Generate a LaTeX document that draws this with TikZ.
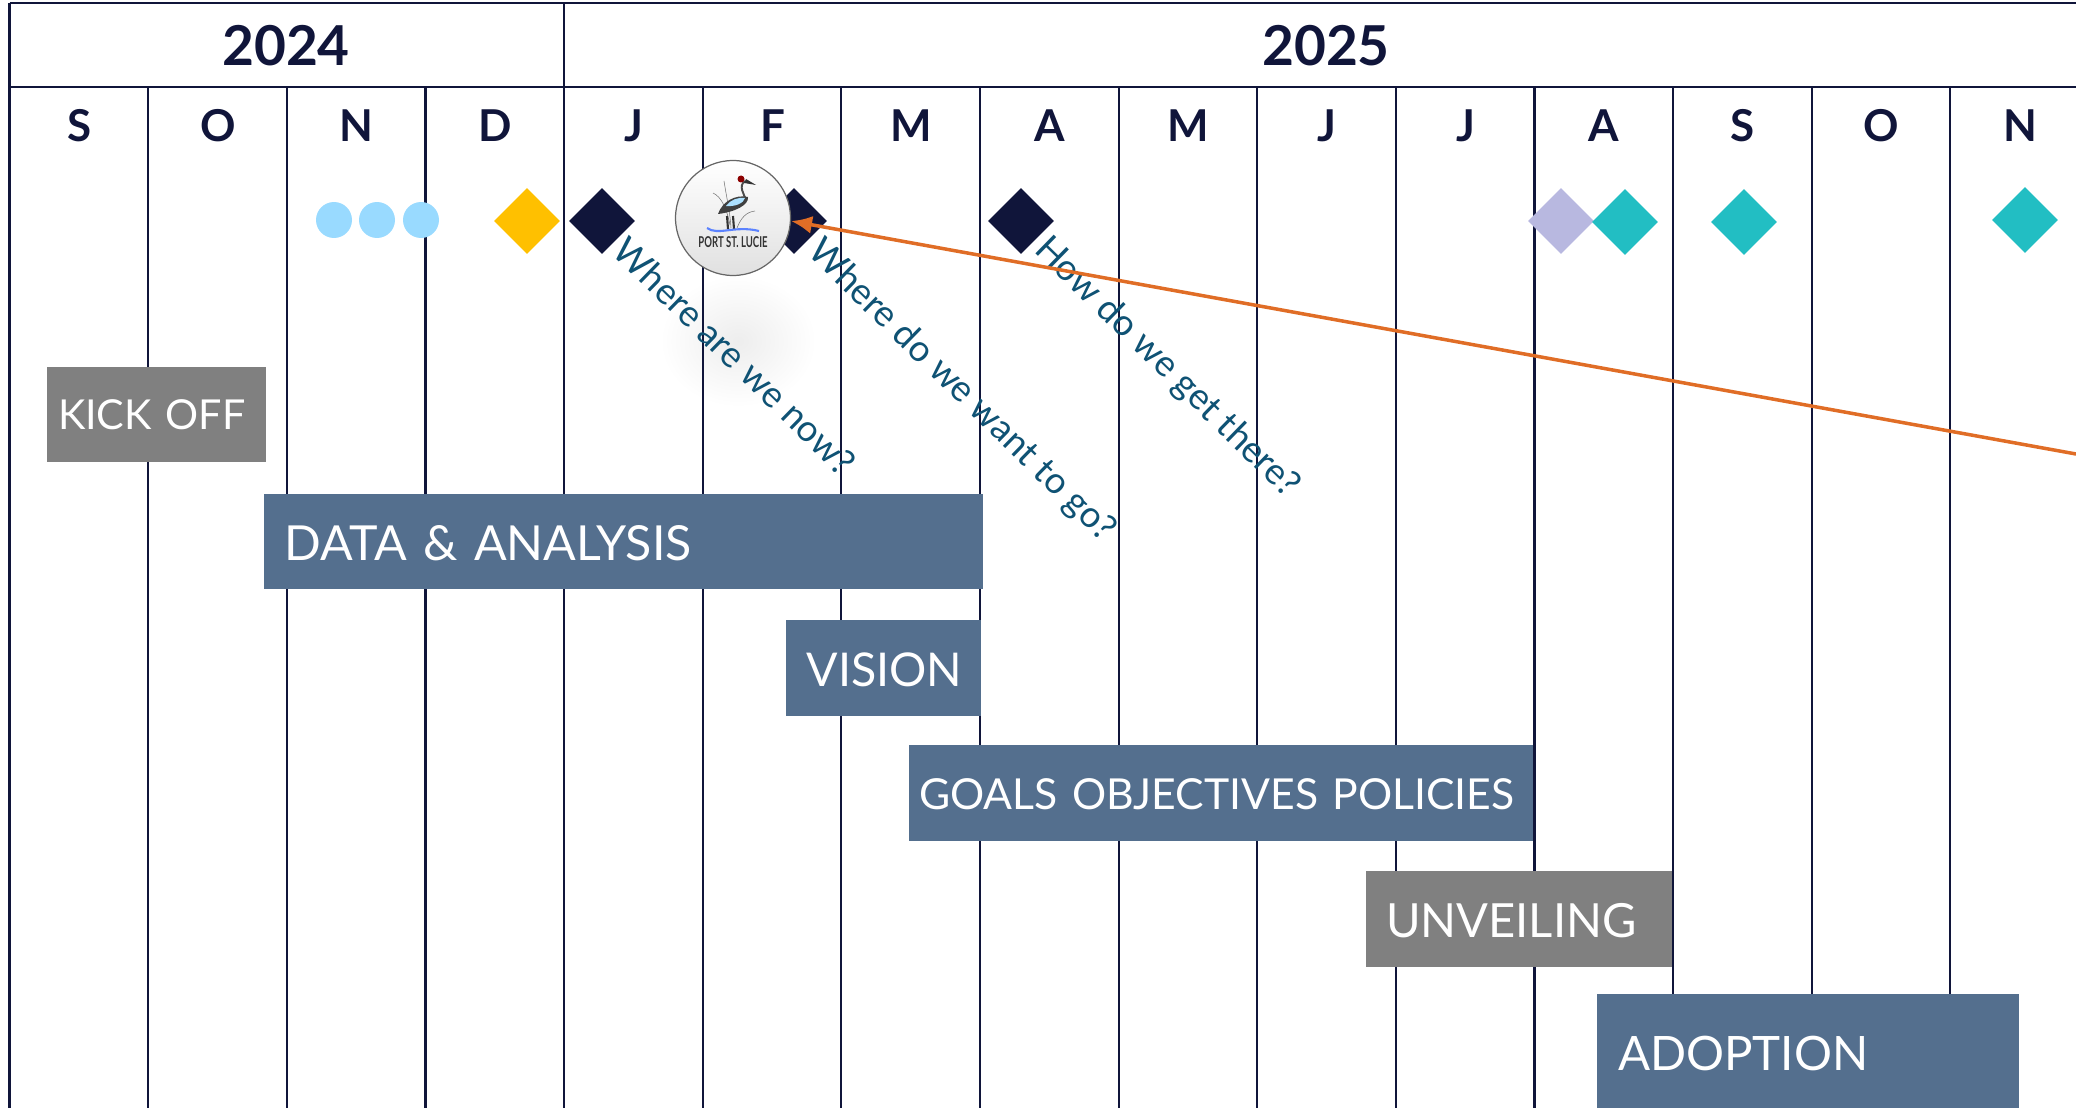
\documentclass[tikz,border=0pt]{standalone}
\usepackage{fontspec}
\usepackage{tikz}
\usetikzlibrary{shapes.geometric,arrows.meta}
\setmainfont{Lato}

\definecolor{navy}{HTML}{10153A}
\definecolor{steel}{HTML}{546F8E}
\definecolor{midgray}{HTML}{808080}
\definecolor{teal}{HTML}{22BEC3}
\definecolor{lilac}{HTML}{B8B8E0}
\definecolor{gold}{HTML}{FFC000}
\definecolor{skyblue}{HTML}{99DAFF}
\definecolor{rust}{HTML}{E06D26}
\definecolor{question}{HTML}{0F5274}

\tikzset{
  gridline/.style={draw=navy,line width=1.6pt},
  yearlabel/.style={text=navy,font=\fontsize{31.3}{32}\selectfont\bfseries,inner sep=0pt},
  monthlabel/.style={text=navy,font=\fontsize{25}{25}\selectfont\bfseries,inner sep=0pt},
  milestone/.style={diamond,minimum width=1.32cm,minimum height=1.32cm,inner sep=0pt},
  dot/.style={circle,fill=skyblue,minimum size=0.72cm,inner sep=0pt},
  phasebox/.style={rectangle,minimum height=1.92cm,inner sep=0pt,align=left,text=white,
    text height=0.76cm,text depth=0pt},
  askline/.style={text=question,font=\fontsize{20.8}{21}\selectfont,inner sep=0pt,rotate=-44.3},
}

\begin{document}
\begin{tikzpicture}[x=0.02cm,y=-0.02cm]
 \useasboundingbox (0,0) rectangle (2076,1108);

% Soft smudge under the first question
 \shade[inner color=black!7,outer color=white] (738,341) ellipse (78 and 66);

% Header rules
 \draw[gridline] (9.5,3) -- (2076,3);
 \draw[gridline] (9.5,87) -- (2076,87);
 \draw[gridline] (9.5,3) -- (9.5,1108);
 \draw[gridline] (564,3) -- (564,87);

% Month rules
 \draw[gridline] (148,87) -- (148,1108);
 \draw[gridline] (287,87) -- (287,1108);
 \draw[gridline] (425.5,87) -- (425.5,1108);
 \draw[gridline] (564,87) -- (564,1108);
 \draw[gridline] (703,87) -- (703,1108);
 \draw[gridline] (841,87) -- (841,1108);
 \draw[gridline] (980,87) -- (980,1108);
 \draw[gridline] (1119,87) -- (1119,1108);
 \draw[gridline] (1257,87) -- (1257,1108);
 \draw[gridline] (1396,87) -- (1396,1108);
 \draw[gridline] (1534.5,87) -- (1534.5,1108);
 \draw[gridline] (1673,87) -- (1673,1108);
 \draw[gridline] (1812,87) -- (1812,1108);
 \draw[gridline] (1950,87) -- (1950,1108);

% Years and months
 \node (year24) [yearlabel] at (286,46) {2024};
 \node (year25) [yearlabel] at (1326,46) {2025};
 \node (mS1) [monthlabel] at (80,126) {S};
 \node (mO1) [monthlabel] at (218,126) {O};
 \node (mN1) [monthlabel] at (356,126) {N};
 \node (mD1) [monthlabel] at (495,126) {D};
 \node (mJ1) [monthlabel] at (634,126) {J};
 \node (mF1) [monthlabel] at (773,126) {F};
 \node (mM1) [monthlabel] at (911,126) {M};
 \node (mA1) [monthlabel] at (1050,126) {A};
 \node (mM2) [monthlabel] at (1188,126) {M};
 \node (mJ2) [monthlabel] at (1327,126) {J};
 \node (mJ3) [monthlabel] at (1466,126) {J};
 \node (mA2) [monthlabel] at (1604,126) {A};
 \node (mS2) [monthlabel] at (1743,126) {S};
 \node (mO2) [monthlabel] at (1881,126) {O};
 \node (mN2) [monthlabel] at (2020,126) {N};

% Meetings and milestones
 \node (dot1) [dot] at (334,220) {};
 \node (dot2) [dot] at (377,220) {};
 \node (dot3) [dot] at (421,220) {};
 \node (kickmark) [milestone,fill=gold] at (527,221) {};
 \node (nowmark) [milestone,fill=navy] at (602,221) {};
 \node (wantmark) [milestone,fill=navy] at (794,221) {};
 \node (howmark) [milestone,fill=navy] at (1021,221) {};
 \node (lilacmark) [milestone,fill=lilac] at (1561,221) {};
 \node (teal1) [milestone,fill=teal] at (1625,222) {};
 \node (teal2) [milestone,fill=teal] at (1744,222) {};
 \node (teal3) [milestone,fill=teal] at (2025,220) {};

% Phases
 \node (kickoff) [phasebox,fill=midgray,minimum width=4.38cm,text width=3.94cm,text height=0.6cm,
   font=\fontsize{23.5}{24}\selectfont] at (156.5,414.5) {KICK OFF};
 \node (data) [phasebox,fill=steel,minimum width=14.4cm,text width=13.56cm,
   font=\fontsize{27.5}{28}\selectfont] at (623.5,541.5) {DATA \& ANALYSIS};
 \node (vision) [phasebox,fill=steel,minimum width=3.92cm,text width=3.08cm,
   font=\fontsize{26.5}{27}\selectfont] at (883.5,668) {VISION};
 \node (goals) [phasebox,fill=steel,minimum width=12.47cm,text width=12.07cm,text height=0.66cm,
   font=\fontsize{24.3}{25}\selectfont] at (1221,793) {GOALS OBJECTIVES POLICIES};
 \node (unveiling) [phasebox,fill=midgray,minimum width=6.12cm,text width=5.32cm,text height=0.72cm,
   font=\fontsize{26.8}{27}\selectfont] at (1519,919) {UNVEILING};
 \node (adoption) [phasebox,fill=steel,minimum width=8.44cm,minimum height=2.28cm,text width=7.6cm,
   font=\fontsize{27}{27}\selectfont] at (1808,1051) {ADOPTION};

% Questions
 \node (asknow) [askline] at (735,356) {Where are we now?};
 \node (askwant) [askline] at (961,391) {Where do we want to go?};
 \node (askhow) [askline] at (1167,368) {How do we get there?};

% City badge with the heron
 \node (badge) [circle,minimum size=2.3cm,inner sep=0pt,draw=black!60,line width=0.7pt,
   top color=white,bottom color=black!12] at (733,218) {};
 \draw[black!55,line width=0.3pt] (724,181) .. controls (727,200) and (730,212) .. (731,228);
 \draw[black!55,line width=0.3pt] (713,193) .. controls (722,197) and (727,210) .. (730,225);
 \draw[black!55,line width=0.3pt] (755,211) .. controls (746,212) and (741,218) .. (737,228);
 \draw[black!80,line width=1.2pt] (727,216) -- (728,229);
 \draw[black!80,line width=1.2pt] (733,216) -- (734,229);
 \draw[black!70,line width=1.1pt] (745,181) .. controls (738,186) and (744,194) .. (746,200);
 \fill[red!55!black] (741,179) circle (3.5);
 \fill[black!80] (746,179) -- (756,185) -- (744,183) -- cycle;
 \fill[black!75] (718,214) .. controls (722,202) and (735,194) .. (748,197) .. controls (749,205) and (735,212) .. (718,214) -- cycle;
 \fill[skyblue!80!white] (726,206) .. controls (730,200) and (738,197) .. (745,198) .. controls (744,203) and (735,207) .. (726,206) -- cycle;
 \draw[skyblue!60!blue,line width=1.2pt] (707,228) .. controls (718,236) and (735,225) .. (759,231);
 \node (badgename) [inner sep=0pt,text=black!80,font=\fontsize{8.5}{9}\selectfont\bfseries] at (733,242) {\scalebox{0.64}[1]{PORT ST. LUCIE}};

% Pointer
 \coordinate (pointerend) at (2076,454);
 \draw[rust,line width=2pt,-{Latex[length=0.42cm,width=0.36cm]}] (pointerend) -- (badge.-3);

\end{tikzpicture}
\end{document}
